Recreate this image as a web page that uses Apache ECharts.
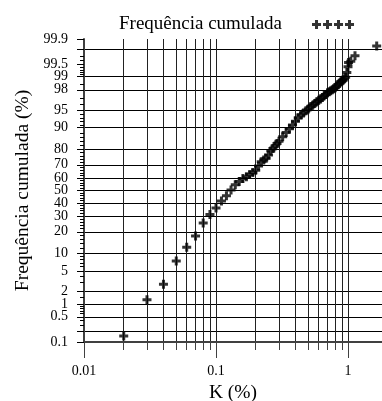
<!DOCTYPE html>
<html>
<head>
<meta charset="utf-8">
<script src="https://cdn.jsdelivr.net/npm/echarts@6/dist/echarts.min.js"></script>
<style>
html, body { margin: 0; padding: 0; background: #fff; }
#main { width: 382px; height: 401px; }
</style>
</head>
<body>
<div id="main"></div>
<script>
// K (%) values and their cumulative frequency (%)
var kValues = [0.02, 0.03, 0.04, 0.05, 0.06, 0.07, 0.08, 0.09,
    0.10, 0.11, 0.12, 0.13, 0.14, 0.15, 0.16, 0.17, 0.18, 0.19,
    0.20, 0.21, 0.22, 0.23, 0.24, 0.25, 0.26, 0.27, 0.28, 0.29, 0.30,
    0.32, 0.34, 0.36, 0.38, 0.40, 0.42, 0.44, 0.46, 0.48, 0.50,
    0.52, 0.54, 0.56, 0.58, 0.60, 0.62, 0.64, 0.66, 0.68, 0.70,
    0.72, 0.74, 0.76, 0.78, 0.80, 0.82, 0.84, 0.86, 0.88, 0.90,
    0.92, 0.94, 0.96, 0.98, 1.00, 1.01, 1.05, 1.13, 1.65];
var freqValues = [0.15, 1.3, 2.8, 7.5, 12.4, 17.7, 25.3, 31.2,
    36.1, 41.5, 45.8, 50.5, 54.7, 57.3, 59.6, 61.0, 62.8, 64.3,
    66.0, 69.1, 72.1, 73.3, 74.5, 76.6, 79.0, 80.4, 81.8, 83.1, 84.3,
    86.4, 88.2, 89.6, 90.9, 92.1, 93.1, 93.8, 94.3, 94.8, 95.2,
    95.6, 95.9, 96.2, 96.5, 96.7, 96.9, 97.1, 97.35, 97.5, 97.7,
    97.8, 97.9, 98.0, 98.1, 98.2, 98.33, 98.46, 98.57, 98.66, 98.73,
    98.79, 98.87, 98.96, 99.19, 99.42, 99.55, 99.58, 99.70, 99.84];

// axis ticks
var xLabels = [0.01, 0.1, 1];
var xGrid = [0.02, 0.03, 0.04, 0.05, 0.06, 0.07, 0.08, 0.09, 0.1,
    0.2, 0.3, 0.4, 0.5, 0.6, 0.7, 0.8, 0.9, 1];
var yLabels = [0.1, 0.5, 1, 2, 5, 10, 20, 30, 40, 50, 60, 70, 80, 90, 95, 98, 99, 99.5, 99.9];
var yMajorTicks = [0.1, 0.2, 0.5, 1, 2, 5, 10, 20, 30, 40, 50, 60, 70, 80, 90, 95, 98, 99, 99.5, 99.8, 99.9];
var yGrid = [0.2, 0.5, 1, 2, 5, 10, 20, 30, 40, 50, 60, 70, 80, 90, 95, 98, 99, 99.8];
var yMinorTicks = [0.3, 0.4, 0.6, 0.7, 0.8, 0.9, 1.5, 3, 4, 6, 7, 8, 9,
    12, 14, 16, 18, 22, 24, 26, 28, 32, 34, 36, 38, 42, 44, 46, 48,
    52, 54, 56, 58, 62, 64, 66, 68, 72, 74, 76, 78, 82, 84, 86, 88,
    91, 92, 93, 94, 96, 97, 98.5, 99.1, 99.2, 99.3, 99.4, 99.6, 99.7];

// inverse normal cdf (Acklam), for the probability scale
function probit(p) {
    var a = [-3.969683028665376e+01, 2.209460984245205e+02, -2.759285104469687e+02, 1.383577518672690e+02, -3.066479806614716e+01, 2.506628277459239e+00];
    var b = [-5.447609879822406e+01, 1.615858368580409e+02, -1.556989798598866e+02, 6.680131188771972e+01, -1.328068155288572e+01];
    var c = [-7.784894002430293e-03, -3.223964580411365e-01, -2.400758277161838e+00, -2.549732539343734e+00, 4.374664141464968e+00, 2.938163982698783e+00];
    var d = [7.784695709041462e-03, 3.224671290700398e-01, 2.445134137142996e+00, 3.754408661907416e+00];
    var plow = 0.02425, q, r;
    if (p < plow) {
        q = Math.sqrt(-2 * Math.log(p));
        return (((((c[0] * q + c[1]) * q + c[2]) * q + c[3]) * q + c[4]) * q + c[5]) /
            ((((d[0] * q + d[1]) * q + d[2]) * q + d[3]) * q + 1);
    }
    if (p <= 1 - plow) {
        q = p - 0.5;
        r = q * q;
        return (((((a[0] * r + a[1]) * r + a[2]) * r + a[3]) * r + a[4]) * r + a[5]) * q /
            (((((b[0] * r + b[1]) * r + b[2]) * r + b[3]) * r + b[4]) * r + 1);
    }
    q = Math.sqrt(-2 * Math.log(1 - p));
    return -(((((c[0] * q + c[1]) * q + c[2]) * q + c[3]) * q + c[4]) * q + c[5]) /
        ((((d[0] * q + d[1]) * q + d[2]) * q + d[3]) * q + 1);
}
function py(v) { return probit(v / 100); }
function lx(v) { return Math.log10(v); }

var yMin = py(0.1), yMax = py(99.9);
var xMin = -2, xMax = Math.log10(1.81);

var points = kValues.map(function (k, i) { return [lx(k), py(freqValues[i])]; });

// plus marker
var cross = 'path://M3,0H6V3H9V6H6V9H3V6H0V3H3Z';
var legendIcon = 'path://';
for (var i = 0; i < 4; i++) {
    var o = i * 11;
    legendIcon += 'M' + (o + 3) + ',0H' + (o + 6) + 'V3H' + (o + 9) + 'V6H' + (o + 6) + 'V9H' + (o + 3) +
        'V6H' + o + 'V3H' + (o + 3) + 'Z';
}

var serif = 'Liberation Serif';
var axisGray = '#404040';

function labelOf(list, fn) {
    return function (v) {
        for (var i = 0; i < list.length; i++) {
            if (Math.abs(fn(list[i]) - v) < 1e-6) return String(list[i]);
        }
        return '';
    };
}

var myChart = echarts.init(document.getElementById('main'));
var option = {
    animation: false,
    textStyle: { fontFamily: serif },
    grid: { left: 84, right: 0, top: 39, bottom: 59, outerBoundsMode: 'none', containLabel: false },
    legend: {
        left: 114,
        top: 10,
        align: 'right',
        itemWidth: 42,
        itemHeight: 9,
        icon: legendIcon,
        data: ['Frequência cumulada'],
        textStyle: { fontFamily: serif, fontSize: 19, color: '#000', padding: [0, 25, 0, 0] }
    },
    xAxis: [
        {
            type: 'value', min: xMin, max: xMax, position: 'bottom',
            name: 'K (%)', nameLocation: 'middle', nameGap: 37,
            nameTextStyle: { fontFamily: serif, fontSize: 19.5, color: '#000' },
            axisLine: { onZero: false, lineStyle: { color: axisGray, width: 2 } },
            axisTick: { customValues: xLabels.map(lx), length: 16, lineStyle: { color: axisGray, width: 1 } },
            axisLabel: {
                customValues: xLabels.map(lx), margin: 22,
                fontFamily: serif, fontSize: 14, color: '#000',
                formatter: labelOf(xLabels, lx)
            },
            splitLine: { show: false }
        },
        {
            type: 'value', min: xMin, max: xMax, position: 'bottom',
            axisLine: { show: false, onZero: false },
            axisTick: { customValues: xGrid.map(lx), length: 8, lineStyle: { color: axisGray, width: 1 } },
            axisLabel: { show: false },
            splitLine: { show: true, lineStyle: { color: '#222', width: 1 } }
        }
    ],
    yAxis: [
        {
            type: 'value', min: yMin, max: yMax, position: 'left',
            name: 'Frequência cumulada (%)', nameLocation: 'middle', nameGap: 50,
            nameTextStyle: { fontFamily: serif, fontSize: 19.5, color: '#000' },
            axisLine: { show: true, onZero: false, lineStyle: { color: axisGray, width: 2 } },
            axisTick: { show: true, customValues: yMajorTicks.map(py), length: 7, lineStyle: { color: '#000', width: 1 } },
            axisLabel: {
                customValues: yLabels.map(py), margin: 16,
                fontFamily: serif, fontSize: 14, color: '#000',
                formatter: labelOf(yLabels, py)
            },
            splitLine: { show: false }
        },
        {
            type: 'value', min: yMin, max: yMax, position: 'left',
            axisLine: { show: false, onZero: false },
            axisTick: { show: false, customValues: yGrid.map(py) },
            axisLabel: { show: false },
            splitLine: { show: true, lineStyle: { color: '#000', width: 1 } }
        },
        {
            type: 'value', min: yMin, max: yMax, position: 'left',
            axisLine: { show: false, onZero: false },
            axisTick: { show: true, customValues: yMinorTicks.map(py), length: 4, lineStyle: { color: '#000', width: 1 } },
            axisLabel: { show: false },
            splitLine: { show: false }
        }
    ],
    series: [
        {
            name: 'Frequência cumulada',
            type: 'scatter',
            xAxisIndex: 0,
            yAxisIndex: 0,
            symbol: cross,
            symbolSize: 9,
            itemStyle: { color: '#000' },
            data: points,
            z: 5
        }
    ]
};
myChart.setOption(option);
</script>
</body>
</html>
